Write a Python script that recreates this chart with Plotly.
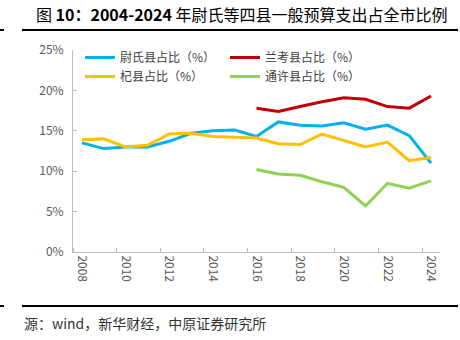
import plotly.graph_objects as go

years = list(range(2008, 2025))
years_late = list(range(2016, 2025))

weishi = [13.5, 12.8, 13.0, 13.0, 13.7, 14.7, 15.0, 15.1, 14.3, 16.1, 15.7, 15.6, 16.0, 15.2, 15.7, 14.4, 11.0]
qixian = [13.9, 14.0, 13.0, 13.2, 14.6, 14.7, 14.3, 14.2, 14.1, 13.4, 13.3, 14.6, 13.8, 13.0, 13.6, 11.3, 11.7]
lankao = [17.8, 17.4, 18.0, 18.6, 19.1, 18.9, 18.0, 17.8, 19.3]
tongxu = [10.2, 9.65, 9.5, 8.7, 8.0, 5.7, 8.5, 7.9, 8.8]

names = ["尉氏县占比（%）", "兰考县占比（%）", "杞县占比（%）", "通许县占比（%）"]
colors = ["#00B0F0", "#C00000", "#FFC000", "#92D050"]

y_ticks = [0, 5, 10, 15, 20, 25]
y_labels = ["0%", "5%", "10%", "15%", "20%", "25%"]
x_ticks = list(range(2008, 2025, 2))

title_text = "图 <b>10：2004-2024</b> 年尉氏等四县一般预算支出占全市比例"
source_text = "源：wind，新华财经，中原证券研究所"

W, H = 460, 340
L, R, T, B = 73, 20, 50, 88
PW, PH = W - L - R, H - T - B


def px(x):
    return (x - L) / PW


def py(y):
    return (H - B - y) / PH


font_cjk = "Noto Sans CJK SC"
fig = go.Figure()
series = [(years, weishi), (years_late, lankao), (years, qixian), (years_late, tongxu)]
for (xs, ys), n, c in zip(series, names, colors):
    fig.add_trace(go.Scatter(x=xs, y=ys, mode="lines", name=n,
                             line=dict(color=c, width=3)))

axis_col = "#BFBFBF"
fig.update_layout(
    width=W, height=H,
    margin=dict(l=L, r=R, t=T, b=B),
    paper_bgcolor="white", plot_bgcolor="white",
    font=dict(family=font_cjk, size=12, color="#595959"),
    showlegend=True,
    legend=dict(orientation="h", x=px(80), y=py(43), xanchor="left", yanchor="top",
                entrywidth=100, entrywidthmode="pixels", itemwidth=30,
                font=dict(family=font_cjk, size=12, color="#404040"),
                bgcolor="rgba(0,0,0,0)", tracegroupgap=0),
    xaxis=dict(range=[2007.59, 2024.41], tickvals=x_ticks, ticktext=[str(v) for v in x_ticks],
               tickangle=90, showgrid=False, zeroline=False, showline=True,
               linecolor=axis_col, linewidth=1, ticks="",
               minor=dict(ticks="inside", ticklen=4, tickcolor=axis_col, tick0=2007.59, dtick=2, showgrid=False),
               tickfont=dict(size=12, color="#595959")),
    yaxis=dict(range=[0, 25], tickvals=y_ticks, ticktext=y_labels, showgrid=False, zeroline=False,
               showline=True, linecolor=axis_col, linewidth=1, ticks="inside", ticklen=4,
               tickcolor=axis_col, ticklabelstandoff=6, tickfont=dict(size=12, color="#595959")),
)

fig.add_annotation(text=title_text, xref="paper", yref="paper", x=px(34), y=py(14),
                   xanchor="left", yanchor="middle", showarrow=False,
                   font=dict(family=font_cjk, size=16, color="#000000"))
fig.add_annotation(text=source_text, xref="paper", yref="paper", x=px(22), y=py(323),
                   xanchor="left", yanchor="middle", showarrow=False,
                   font=dict(family=font_cjk, size=14, color="#333333"))

for yy in (30, 306):
    fig.add_shape(type="line", xref="paper", yref="paper", x0=px(22), x1=px(458), y0=py(yy), y1=py(yy),
                  line=dict(color="#000000", width=2))
    fig.add_shape(type="line", xref="paper", yref="paper", x0=px(0), x1=px(4), y0=py(yy), y1=py(yy),
                  line=dict(color="#000000", width=2))

fig.write_html("out.html")
